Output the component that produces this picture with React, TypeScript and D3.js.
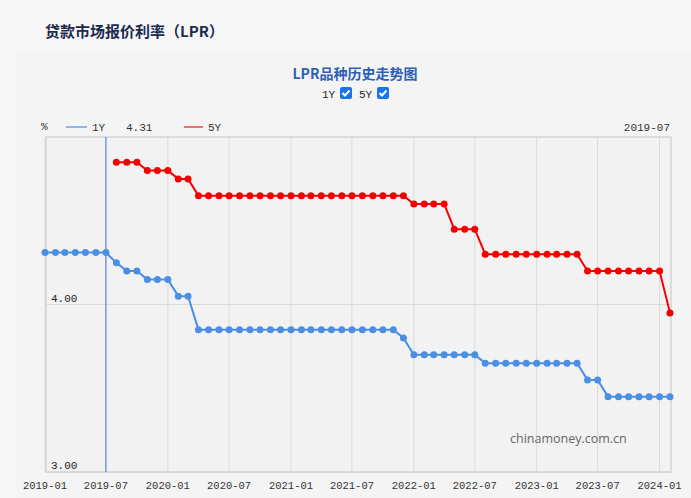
import React from "react";
import * as d3 from "d3";

// months 2019-01 .. 2024-02
const months: string[] = [];
for (let yr = 2019; yr <= 2024; yr++) {
  for (let m = 1; m <= 12; m++) {
    if (yr === 2024 && m > 2) break;
    months.push(`${yr}-${String(m).padStart(2, "0")}`);
  }
}

const lpr1y: number[] = [
  4.31, 4.31, 4.31, 4.31, 4.31, 4.31, 4.31, 4.25, 4.2, 4.2, 4.15, 4.15,
  4.15, 4.05, 4.05, 3.85, 3.85, 3.85, 3.85, 3.85, 3.85, 3.85, 3.85, 3.85,
  3.85, 3.85, 3.85, 3.85, 3.85, 3.85, 3.85, 3.85, 3.85, 3.85, 3.85, 3.8,
  3.7, 3.7, 3.7, 3.7, 3.7, 3.7, 3.7, 3.65, 3.65, 3.65, 3.65, 3.65,
  3.65, 3.65, 3.65, 3.65, 3.65, 3.55, 3.55, 3.45, 3.45, 3.45, 3.45, 3.45,
  3.45, 3.45,
];

const lpr5y: (number | null)[] = [
  null, null, null, null, null, null, null, 4.85, 4.85, 4.85, 4.8, 4.8,
  4.8, 4.75, 4.75, 4.65, 4.65, 4.65, 4.65, 4.65, 4.65, 4.65, 4.65, 4.65,
  4.65, 4.65, 4.65, 4.65, 4.65, 4.65, 4.65, 4.65, 4.65, 4.65, 4.65, 4.65,
  4.6, 4.6, 4.6, 4.6, 4.45, 4.45, 4.45, 4.3, 4.3, 4.3, 4.3, 4.3,
  4.3, 4.3, 4.3, 4.3, 4.3, 4.2, 4.2, 4.2, 4.2, 4.2, 4.2, 4.2,
  4.2, 3.95,
];

const yTicks = [3, 4];
const hoverMonth = "2019-07";

const parse = d3.timeParse("%Y-%m");
const fmt = d3.timeFormat("%Y-%m");

const W = 691;
const H = 498;
const plot = { left: 46, right: 671, top: 137, bottom: 472 };
const mono = "'Liberation Mono', 'DejaVu Sans Mono', monospace";
const blue = "#4a8fe3";
const red = "#f50000";

type Pt = { date: Date; v: number };

const App = () => {
  const dates = months.map((m) => parse(m) as Date);
  const x = d3
    .scaleTime()
    .domain([dates[0], dates[dates.length - 1]])
    .range([45, 670]);
  const y = d3.scaleLinear().domain([3, 5]).range([plot.bottom, plot.top]);

  const s1: Pt[] = dates.map((d, i) => ({ date: d, v: lpr1y[i] }));
  const s5: Pt[] = dates
    .map((d, i) => ({ date: d, v: lpr5y[i] as number }))
    .filter((p, i) => lpr5y[i] !== null);

  const line = d3
    .line<Pt>()
    .x((d) => x(d.date))
    .y((d) => y(d.v));

  const xTicks = x.ticks(d3.timeMonth.every(6) as d3.TimeInterval);
  const hoverDate = parse(hoverMonth) as Date;
  const hoverIdx = months.indexOf(hoverMonth);

  return (
    <svg
      width={W}
      height={H}
      style={{ position: "fixed", left: 0, top: 0 }}
      fontFamily={mono}
    >
      <rect width={W} height={H} fill="#f7f7f8" />
      <rect x={15} y={50} width={W - 15} height={H - 50} fill="#f4f4f4" />
      <text
        x={45}
        y={37}
        fontFamily="'Noto Sans CJK SC', sans-serif"
        fontSize={15}
        fontWeight="bold"
        fill="#1d2a4f"
      >
        贷款市场报价利率（LPR）
      </text>

      {/* chart title + toggles */}
      <text
        x={355}
        y={79}
        textAnchor="middle"
        fontFamily="'Noto Sans CJK SC', serif"
        fontSize={14}
        fontWeight="bold"
        fill="#2d5fb5"
      >
        LPR品种历史走势图
      </text>
      <text x={322} y={98} fontSize={11} fill="#222">
        1Y
      </text>
      <rect x={340} y={87} width={12} height={12} rx={2} fill="#1a73e8" />
      <path d="M342.5,93 l2.5,2.5 l4.5,-5" stroke="#fff" strokeWidth={2} fill="none" />
      <text x={359} y={98} fontSize={11} fill="#222">
        5Y
      </text>
      <rect x={377} y={87} width={12} height={12} rx={2} fill="#1a73e8" />
      <path d="M379.5,93 l2.5,2.5 l4.5,-5" stroke="#fff" strokeWidth={2} fill="none" />

      {/* legend */}
      <text x={41} y={130} fontSize={11} fill="#333">
        %
      </text>
      <line x1={66} x2={87} y1={127} y2={127} stroke="#8fb6ea" strokeWidth={2} />
      <text x={92} y={131} fontSize={11} fill="#333">
        1Y
      </text>
      <text x={126} y={131} fontSize={11} fill="#333">
        {lpr1y[hoverIdx].toFixed(2)}
      </text>
      <line x1={184} x2={203} y1={127} y2={127} stroke="#f07070" strokeWidth={2} />
      <text x={208} y={131} fontSize={11} fill="#333">
        5Y
      </text>
      <text x={670} y={131} textAnchor="end" fontSize={11} fill="#333">
        {hoverMonth}
      </text>

      {/* plot area */}
      <rect
        x={plot.left}
        y={plot.top}
        width={plot.right - plot.left}
        height={plot.bottom - plot.top}
        fill="#f2f2f2"
      />
      {xTicks.map((t, i) => (
        <line
          key={i}
          x1={x(t)}
          x2={x(t)}
          y1={plot.top}
          y2={plot.bottom}
          stroke="#dadada"
        />
      ))}
      {yTicks.map((t) => (
        <line
          key={t}
          x1={plot.left}
          x2={plot.right}
          y1={y(t)}
          y2={y(t)}
          stroke="#dadada"
        />
      ))}
      <rect
        x={plot.left}
        y={plot.top}
        width={plot.right - plot.left}
        height={plot.bottom - plot.top}
        fill="none"
        stroke="#d4d4d4"
        strokeWidth={1.5}
      />
      {yTicks.map((t) => (
        <text key={t} x={51} y={y(t) - 3} fontSize={11} fill="#222">
          {t.toFixed(2)}
        </text>
      ))}
      {xTicks.map((t, i) => (
        <text
          key={i}
          x={x(t)}
          y={489}
          textAnchor="middle"
          fontSize={10.5}
          fill="#333"
        >
          {fmt(t)}
        </text>
      ))}

      <text
        x={510}
        y={443}
        fontFamily="'Open Sans', 'Noto Sans', sans-serif"
        fontSize={12.5}
        fill="#666"
      >
        chinamoney.com.cn
      </text>

      {/* crosshair */}
      <line
        x1={x(hoverDate)}
        x2={x(hoverDate)}
        y1={plot.top}
        y2={plot.bottom}
        stroke="#3d7ad6"
        strokeWidth={1}
      />

      {/* series */}
      <path d={line(s1) || ""} fill="none" stroke={blue} strokeWidth={2} />
      {s1.map((p, i) => (
        <circle key={i} cx={x(p.date)} cy={y(p.v)} r={3.5} fill={blue} />
      ))}
      <path d={line(s5) || ""} fill="none" stroke={red} strokeWidth={2} />
      {s5.map((p, i) => (
        <circle key={i} cx={x(p.date)} cy={y(p.v)} r={3.5} fill={red} />
      ))}
    </svg>
  );
};

export default App;
